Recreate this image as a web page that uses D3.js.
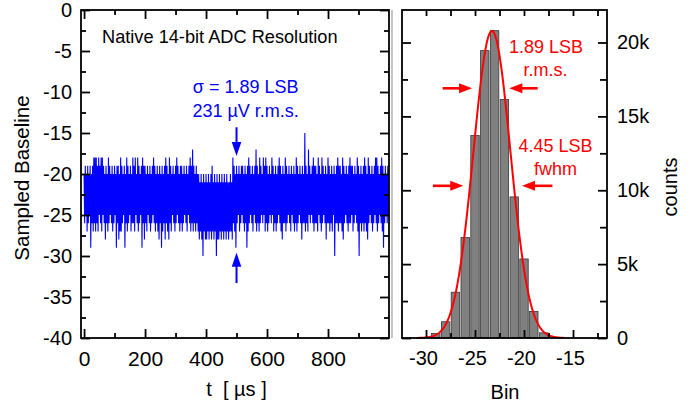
<!DOCTYPE html>
<html>
<head>
<meta charset="utf-8">
<script src="https://cdn.jsdelivr.net/npm/d3@7"></script>
<style>
  body { margin: 0; background: #fff; }
  text { font-family: "Liberation Sans", Arial, sans-serif; }
</style>
</head>
<body>
<div id="chart"></div>
<script>
// sampled baseline trace, one value every 2 us (one row = 40 us)
const traceStep = 2;
const traceValues = [
  -20,-26,-19,-25,-20,-27,-19,-26,-20,-25, -19,-29,-20,-26,-19,-27,-18,-26,-18,-27,
  -18,-26,-19,-27,-18,-25,-19,-26,-18,-27, -18,-25,-19,-26,-20,-28,-19,-26,-20,-27,
  -18,-26,-19,-25,-20,-26,-19,-27,-20,-26, -19,-25,-20,-29,-19,-26,-19,-28,-20,-27,
  -18,-27,-19,-26,-20,-25,-19,-29,-20,-26, -18,-27,-19,-26,-20,-25,-19,-27,-20,-26,
  -18,-26,-19,-27,-18,-25,-20,-26,-18,-27, -19,-26,-20,-25,-19,-29,-18,-26,-19,-28,
  -19,-26,-20,-27,-19,-25,-20,-26,-19,-27, -20,-26,-19,-25,-18,-26,-19,-27,-20,-26,
  -19,-27,-20,-28,-19,-26,-20,-29,-19,-27, -20,-26,-19,-28,-18,-26,-19,-27,-20,-28,
  -18,-26,-19,-27,-20,-25,-19,-26,-20,-27, -19,-26,-18,-25,-19,-26,-20,-27,-19,-26,
  -19,-27,-20,-26,-19,-25,-20,-26,-19,-27, -20,-25,-19,-26,-18,-27,-19,-26,-17,-27,
  -19,-26,-20,-27,-19,-26,-20,-27,-20,-28, -21,-27,-20,-28,-21,-30,-20,-27,-21,-28,
  -20,-28,-21,-27,-20,-28,-21,-27,-20,-28, -19,-27,-21,-28,-20,-27,-21,-30,-20,-28,
  -21,-28,-20,-27,-21,-28,-20,-27,-21,-28, -20,-27,-21,-28,-20,-27,-21,-28,-21,-27,
  -20,-27,-21,-28,-18,-26,-19,-27,-20,-29, -19,-26,-20,-25,-19,-27,-20,-26,-19,-25,
  -19,-26,-20,-27,-19,-26,-20,-29,-19,-27, -18,-26,-19,-25,-20,-26,-19,-27,-20,-25,
  -19,-26,-17,-27,-19,-26,-20,-27,-18,-26, -19,-25,-20,-26,-18,-25,-19,-27,-18,-26,
  -19,-27,-20,-26,-19,-25,-20,-26,-18,-25, -19,-27,-20,-26,-19,-27,-20,-26,-19,-25,
  -18,-26,-19,-27,-20,-28,-19,-26,-20,-26, -18,-27,-19,-26,-20,-25,-19,-26,-20,-27,
  -19,-25,-20,-26,-19,-27,-20,-26,-18,-27, -19,-26,-20,-25,-19,-26,-20,-28,-19,-26,
  -20,-26,-15,-27,-19,-26,-20,-27,-17,-25, -19,-26,-20,-25,-19,-26,-18,-27,-19,-26,
  -19,-26,-20,-27,-18,-25,-19,-26,-20,-27, -18,-26,-19,-25,-20,-26,-19,-28,-20,-26,
  -18,-26,-19,-27,-20,-26,-19,-27,-20,-25, -19,-30,-20,-26,-19,-26,-18,-27,-19,-26,
  -19,-26,-20,-27,-18,-28,-19,-26,-20,-25, -19,-26,-20,-27,-19,-26,-18,-26,-19,-25,
  -19,-27,-20,-26,-19,-25,-20,-26,-18,-27, -19,-30,-20,-26,-19,-27,-20,-26,-19,-27,
  -18,-26,-19,-27,-20,-28,-18,-26,-19,-25, -20,-26,-19,-27,-20,-26,-19,-25,-18,-26,
  -18,-27,-19,-26,-20,-25,-19,-26,-18,-27, -19,-29,-20,-26,-19,-25,-20,-26,-19,-25
];
const timeMajor = [0, 200, 400, 600, 800];
const timeMinor = [100, 300, 500, 700, 900];
const baseMajor = [0, -5, -10, -15, -20, -25, -30, -35, -40];
const baseMinor = [-2.5, -7.5, -12.5, -17.5, -22.5, -27.5, -32.5, -37.5];

// histogram of the baseline samples
const histBins = [-29, -28, -27, -26, -25, -24, -23, -22, -21, -20, -19, -18];
const histCounts = [300, 1100, 3100, 6800, 13700, 19450, 20800, 16150, 9550, 5350, 1800, 350];
const binMajor = [-30, -25, -20, -15];
const binMinor = [-27.5, -22.5, -17.5, -12.5];
const countMajor = [0, 5000, 10000, 15000, 20000];
const countMinor = [2500, 7500, 12500, 17500];

// gaussian fit to the histogram
const fitMean = -23.27, fitSigma = 1.89, fitPeak = 20780;
const fitRange = [-31, -15.9];

const width = 696, height = 407;
const svg = d3.select("#chart").append("svg")
    .attr("width", width)
    .attr("height", height);

// panel frames
const L = { left: 81, right: 389, top: 10, bottom: 338 };
const R = { left: 402, right: 607, top: 10, bottom: 338 };

const xT = d3.scaleLinear().domain([-10, 1000]).range([L.left, L.right]);
const yB = d3.scaleLinear().domain([-40, 0]).range([L.bottom, L.top]);
const xH = d3.scaleLinear().domain([-32.45, -11.53]).range([R.left, R.right]);
const yH = d3.scaleLinear().domain([0, 22200]).range([R.bottom, R.top]);

const num = d => String(d);

//helper for inward ticks
function ticks(x, y, axis, values, size, fmt, pad, fontSize) {
    const g = svg.append("g").attr("transform", `translate(${x},${y})`);
    g.call(axis.tickValues(values).tickSizeInner(size).tickSizeOuter(0)
        .tickPadding(pad || 0).tickFormat(fmt || ""));
    g.select(".domain").remove();
    g.attr("font-family", null).attr("font-size", null);
    g.selectAll(".tick line").attr("stroke", "#000").attr("stroke-width", 1.8);
    g.selectAll(".tick text").attr("fill", "#000").style("font-size", (fontSize || 20) + "px");
    return g;
}

// ---- left panel: trace ----
const line = d3.line()
    .x((d, i) => xT(i * traceStep))
    .y(d => yB(d));

svg.append("path")
    .datum(traceValues)
    .attr("d", line)
    .attr("fill", "none")
    .attr("stroke", "#0000ff")
    .attr("stroke-width", 1.1)
    .attr("stroke-linejoin", "bevel");

ticks(0, L.bottom, d3.axisBottom(xT), timeMajor, -9, num, 13, 21);
ticks(0, L.bottom, d3.axisBottom(xT), timeMinor, -5);
ticks(0, L.top, d3.axisTop(xT), timeMajor, -9);
ticks(0, L.top, d3.axisTop(xT), timeMinor, -5);
ticks(L.left, 0, d3.axisLeft(yB), baseMajor, -9, num, 9, 20);
ticks(L.left, 0, d3.axisLeft(yB), baseMinor, -5);
ticks(L.right, 0, d3.axisRight(yB), baseMajor, -9);
ticks(L.right, 0, d3.axisRight(yB), baseMinor, -5);

svg.append("rect")
    .attr("x", L.left).attr("y", L.top)
    .attr("width", L.right - L.left).attr("height", L.bottom - L.top)
    .attr("fill", "none").attr("stroke", "#000").attr("stroke-width", 1.8);

svg.append("line")
    .attr("x1", L.right + 3).attr("x2", L.right + 3)
    .attr("y1", L.top).attr("y2", L.bottom)
    .attr("stroke", "#c4c4c4").attr("stroke-width", 2);

// ---- right panel: histogram ----
const binHalf = 0.43;
svg.append("g").selectAll("rect")
    .data(histBins)
    .enter()
    .append("rect")
        .attr("x", d => xH(d - binHalf))
        .attr("width", d => xH(d + binHalf) - xH(d - binHalf))
        .attr("y", (d, i) => yH(histCounts[i]))
        .attr("height", (d, i) => yH(0) - yH(histCounts[i]))
        .attr("fill", "#808080")
        .attr("stroke", "#383838")
        .attr("stroke-width", 0.8);

const fitX = d3.range(fitRange[0], fitRange[1], 0.05);
const fitLine = d3.line()
    .x(d => xH(d))
    .y(d => yH(fitPeak * Math.exp(-((d - fitMean) ** 2) / (2 * fitSigma * fitSigma))));

svg.append("path")
    .datum(fitX)
    .attr("d", fitLine)
    .attr("fill", "none")
    .attr("stroke", "#ff0000")
    .attr("stroke-width", 2);

const kFmt = d => d === 0 ? "0" : (d / 1000) + "k";
ticks(0, R.bottom, d3.axisBottom(xH), binMajor, -8, num, 13, 20)
    .selectAll(".tick text").attr("dx", "-3");
ticks(0, R.bottom, d3.axisBottom(xH), binMinor, -5);
ticks(0, R.top, d3.axisTop(xH), binMajor.concat(binMinor), -6);
ticks(R.right, 0, d3.axisRight(yH), countMajor, -9, kFmt, 10, 20);
ticks(R.right, 0, d3.axisRight(yH), countMinor, -7);
ticks(R.left, 0, d3.axisLeft(yH), countMajor, -9);
ticks(R.left, 0, d3.axisLeft(yH), countMinor, -6);

svg.append("rect")
    .attr("x", R.left).attr("y", R.top)
    .attr("width", R.right - R.left).attr("height", R.bottom - R.top)
    .attr("fill", "none").attr("stroke", "#000").attr("stroke-width", 1.8);

// ---- annotations ----
function arrow(x1, y1, x2, y2, color, w, len, half) {
    const d = Math.hypot(x2 - x1, y2 - y1);
    const ux = (x2 - x1) / d, uy = (y2 - y1) / d;
    const bx = x2 - ux * len, by = y2 - uy * len;
    svg.append("line")
        .attr("x1", x1).attr("y1", y1).attr("x2", bx + ux).attr("y2", by + uy)
        .attr("stroke", color).attr("stroke-width", w);
    svg.append("path")
        .attr("d", `M${x2},${y2}L${bx - uy * half},${by + ux * half}L${bx + uy * half},${by - ux * half}Z`)
        .attr("fill", color);
}

// blue arrows at t = 500 us
const blueArrows = [{ t: 500, from: -14.3, to: -17.8 }, { t: 500, from: -33.3, to: -29.6 }];
blueArrows.forEach(a => arrow(xT(a.t), yB(a.from), xT(a.t), yB(a.to), "#0000ff", 2, 14, 4.8));

const blueNotes = [{ text: "σ = 1.89 LSB", t: 530, v: -10.1 }, { text: "231 µV r.m.s.", t: 530, v: -13.1 }];
svg.selectAll(".bnote")
    .data(blueNotes)
    .enter()
    .append("text")
        .attr("x", d => xT(d.t))
        .attr("y", d => yB(d.v))
        .attr("text-anchor", "middle")
        .attr("fill", "#0000ff")
        .style("font-size", "18px")
        .text(d => d.text);

svg.append("text")
    .attr("x", xT(59)).attr("y", yB(-4.0))
    .style("font-size", "18.2px")
    .text("Native 14-bit ADC Resolution");

// red arrows: rms and fwhm
const redArrows = [
    { from: -28.3, to: -25.3, c: 16900 }, { from: -18.6, to: -21.5, c: 16900 },
    { from: -29.3, to: -26.2, c: 10300 }, { from: -17.1, to: -20.2, c: 10300 }
];
redArrows.forEach(a => arrow(xH(a.from), yH(a.c), xH(a.to), yH(a.c), "#ff0000", 2.6, 13, 5));

const redNotes = [
    { text: "1.89 LSB", b: -17.76, c: 19270 }, { text: "r.m.s.", b: -17.8, c: 17730 },
    { text: "4.45 LSB", b: -16.79, c: 12610 }, { text: "fwhm", b: -16.79, c: 11030 }
];
svg.selectAll(".rnote")
    .data(redNotes)
    .enter()
    .append("text")
        .attr("x", d => xH(d.b))
        .attr("y", d => yH(d.c))
        .attr("text-anchor", "middle")
        .attr("fill", "#ff0000")
        .style("font-size", "18px")
        .text(d => d.text);

// axis titles
svg.append("text")
    .attr("transform", "translate(28.5,178) rotate(-90)")
    .attr("text-anchor", "middle")
    .style("font-size", "20.5px")
    .text("Sampled Baseline");

svg.append("text")
    .attr("x", 236.5).attr("y", 396)
    .attr("text-anchor", "middle")
    .style("font-size", "20px")
    .style("white-space", "pre")
    .text("t  [ µs ]");

svg.append("text")
    .attr("x", 505).attr("y", 399)
    .attr("text-anchor", "middle")
    .style("font-size", "20px")
    .text("Bin");

svg.append("text")
    .attr("transform", "translate(677,187) rotate(-90)")
    .attr("text-anchor", "middle")
    .style("font-size", "20px")
    .text("counts");
</script>
</body>
</html>
